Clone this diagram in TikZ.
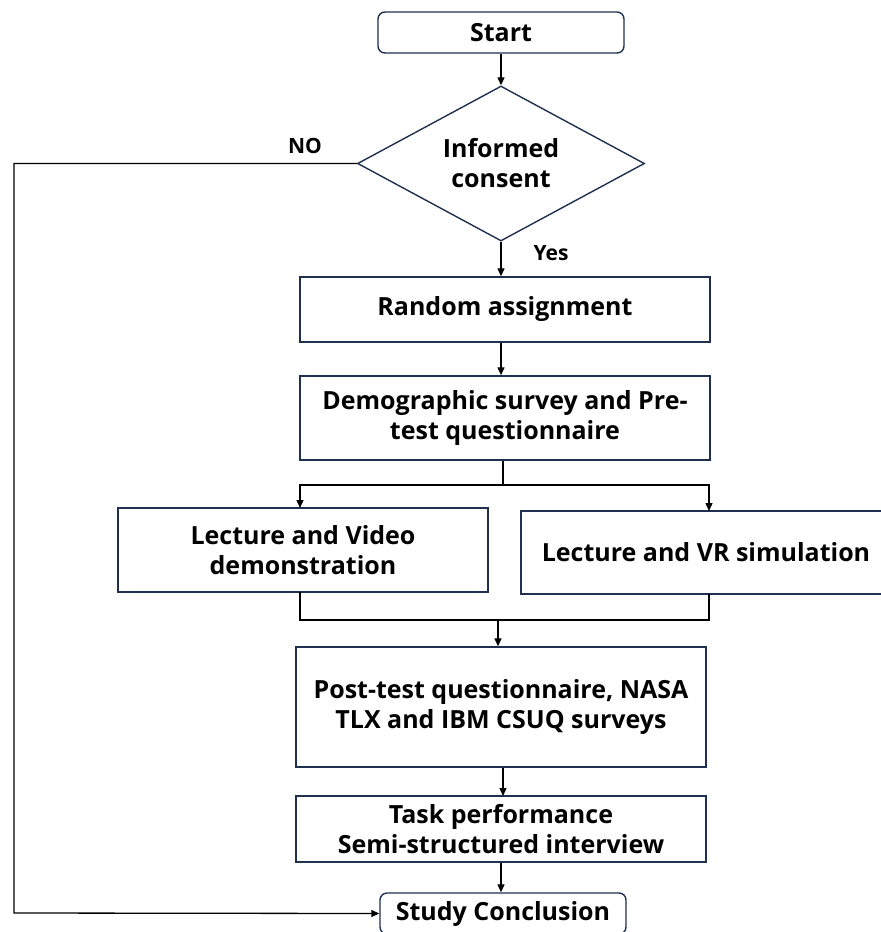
\documentclass[tikz,border=0pt]{standalone}
\usepackage{fontspec}
\setmainfont{Open Sans}
\usetikzlibrary{shapes.geometric, arrows.meta, positioning, calc}
\definecolor{boxline}{HTML}{1F3050}

\begin{document}
\begin{tikzpicture}[x=1pt, y=-1pt,
		font=\bfseries\fontsize{25}{30}\selectfont,
		box/.style={draw=boxline, line width=1.4pt, align=center, inner sep=0pt, minimum width=410pt},
		term/.style={box, rounded corners=7pt, minimum width=246pt, minimum height=41pt},
		decide/.style={draw=boxline, line width=1.4pt, diamond, aspect=1.85, align=center, inner sep=0pt, minimum width=287pt, minimum height=155pt},
		flow/.style={draw, line width=1.3pt, -{Triangle[length=8pt, width=7pt]}},
		lbl/.style={font=\bfseries\fontsize{21}{25}\selectfont}]
	\useasboundingbox (0,0) rectangle (881,932);
	\clip (0,0) rectangle (881,932);
	% main column
	\node[term] (start) at (501,32.5) {Start};
	\node[decide] (consent) at (501,163.5) {Informed\\consent};
	\node[box, minimum height=65pt] (assign) at (505,309.5) {Random assignment};
	\node[box, minimum height=84pt] (survey) at (505,418) {Demographic survey and Pre-\\test questionnaire};
	\node[box, minimum width=370pt, minimum height=84pt] (video) at (303,550) {Lecture and Video\\demonstration};
	\node[box, minimum width=370pt, minimum height=83pt] (vr) at (706,552.5) {Lecture and VR simulation};
	\node[box, minimum height=120pt] (post) at (501,707) {Post-test questionnaire, NASA\\TLX and IBM CSUQ surveys};
	\node[box, minimum height=66pt] (task) at (501,829) {Task performance\\Semi-structured interview};
	\node[term] (end) at (503,913.5) {Study Conclusion};
	% connectors
	\draw[flow] (start) -- (consent);
	\draw[flow] (consent) -- (consent.south |- assign.north);
	\node[lbl, anchor=west] (yes) at (530,253) {Yes};
	\draw[flow] (consent.west) -| (14,913) -- (end.west);
	\node[lbl] (no) at (305,146) {NO};
	\draw[flow] (assign.south -| consent) -- (consent |- survey.north);
	\coordinate (split) at (503,485);
	\draw[line width=1.3pt] (survey.south -| split) -- (split);
	\draw[flow] (split) -| (300,508);
	\draw[flow] (split) -| (709,511);
	\coordinate (join) at (498,620);
	\draw[line width=1.3pt] (300,592) |- (join) -| (709,594);
	\draw[flow] (join) -- (join |- post.north);
	\draw[flow] (post.south -| 503,0) -- (503,796);
	\draw[flow] (task.south) -- (task.south |- end.north);
\end{tikzpicture}
\end{document}
